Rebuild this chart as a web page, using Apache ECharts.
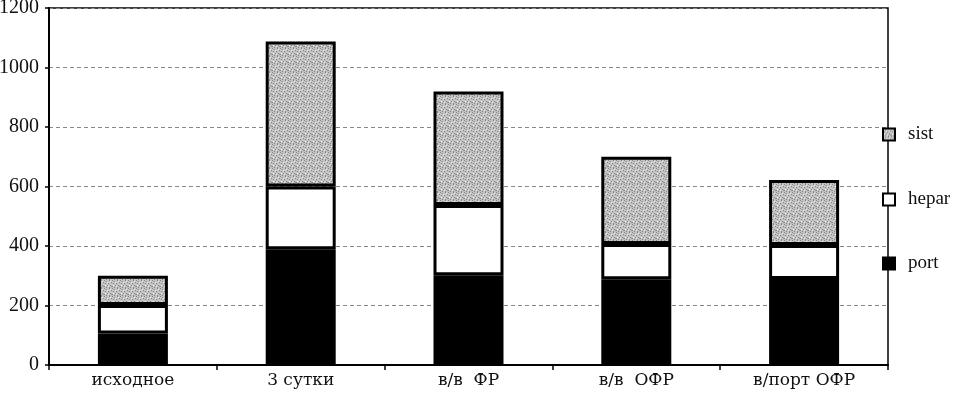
<!DOCTYPE html>
<html><head><meta charset="utf-8">
<script src="https://cdn.jsdelivr.net/npm/echarts@6/dist/echarts.min.js"></script>
<style>html,body{margin:0;padding:0;background:#fff}#c{width:956px;height:393px}</style>
</head><body><div id="c"></div>
<script>
const categories = ['исходное', '3 сутки', 'в/в  ФР', 'в/в  ОФР', 'в/порт ОФР'];
const port  = [106, 389, 302, 288, 289];
const hepar = [96, 211, 236, 119, 114];
const sist  = [98, 487, 381, 293, 219];
const yTicks = [0, 200, 400, 600, 800, 1000, 1200];

// deterministic stipple pattern for the grey series
const pc = document.createElement('canvas');
pc.width = 8; pc.height = 8;
const g = pc.getContext('2d');
g.fillStyle = '#c4c4c4'; g.fillRect(0,0,8,8);
g.fillStyle = '#858585';
[[0,0],[2,1],[5,0],[7,2],[1,3],[4,3],[6,5],[3,5],[0,6],[5,7],[2,7],[7,6]].forEach(p=>g.fillRect(p[0],p[1],1,1));
g.fillStyle = '#f2f2f2';
[[3,2],[6,1],[1,5],[4,6]].forEach(p=>g.fillRect(p[0],p[1],1,1));

const chart = echarts.init(document.getElementById('c'));
const serif = 'Liberation Serif, DejaVu Serif, serif';
function lg(name, top){
  return {show:true, data:[{name:name, icon:'rect'}], orient:'vertical', left:882, top:top, padding:0,
    itemWidth:12, itemHeight:12,
    textStyle:{fontFamily:serif, fontSize:19, color:'#111', padding:[0,0,0,8]}};
}
chart.setOption({
  animation:false,
  backgroundColor:'#fff',
  grid:{left:49, right:68, top:8, bottom:28, containLabel:false, outerBoundsMode:'none',
    show:true, borderColor:'#000', borderWidth:1.5, backgroundColor:'transparent'},
  legend:[lg('sist',125), lg('hepar',190), lg('port',254)],
  xAxis:{type:'category', data:categories,
    axisLine:{lineStyle:{color:'#000', width:2}},
    axisTick:{show:true, alignWithLabel:false, length:5, lineStyle:{color:'#000', width:1.5}},
    axisLabel:{fontFamily:'DejaVu Serif, serif', fontSize:17, color:'#111', margin:7}},
  yAxis:{type:'value', min:0, max:1200, interval:200,
    axisLine:{show:true, lineStyle:{color:'#000', width:2}},
    axisTick:{show:true, length:4, lineStyle:{color:'#000', width:1.5}},
    axisLabel:{fontFamily:serif, fontSize:20, color:'#111', margin:10,
      formatter:v=>yTicks.includes(v)?String(v):''},
    splitLine:{show:true, lineStyle:{color:'#888', width:1, type:[4,3]}}},
  series:[
    {name:'port', type:'bar', stack:'s', barWidth:70, data:port,
      itemStyle:{color:'#000', borderColor:'#000', borderWidth:3}},
    {name:'hepar', type:'bar', stack:'s', barWidth:70, data:hepar,
      itemStyle:{color:'#fff', borderColor:'#000', borderWidth:3}},
    {name:'sist', type:'bar', stack:'s', barWidth:70, data:sist,
      itemStyle:{color:{image:pc, repeat:'repeat'}, borderColor:'#000', borderWidth:3}}
  ]
});
</script></body></html>
